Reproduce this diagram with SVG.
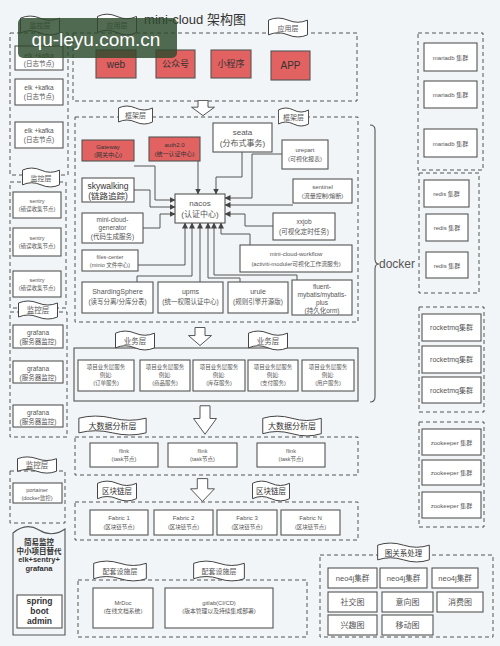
<svg xmlns="http://www.w3.org/2000/svg" xmlns:xlink="http://www.w3.org/1999/xlink" width="500" height="646" viewBox="0 0 500 646">
<style>
text{font-family:'Liberation Sans','Noto Sans CJK SC',sans-serif;fill:#555;text-anchor:middle}
.b{fill:#fff;stroke:#555;stroke-width:1.1}
.r{fill:#e26262;stroke:#555;stroke-width:1.1}
.d{fill:none;stroke:#555;stroke-width:1;stroke-dasharray:4 3}
.s{fill:none;stroke:#555;stroke-width:1.1}
.c{fill:none;stroke:#555;stroke-width:1;marker-end:url(#ah)}
.dark{fill:#333}
.bold{font-weight:bold;fill:#333}
</style>
<defs>
<marker id="ah" markerWidth="6" markerHeight="6" refX="5.5" refY="3" orient="auto" markerUnits="userSpaceOnUse"><path d="M0,0 L6,3 L0,6 z" fill="#444"/></marker>
<symbol id="tape" viewBox="0 0 40 20" preserveAspectRatio="none"><path d="M0.5,3 Q10,-1 20,3 T39.5,3 V17 Q30,21 20,17 T0.5,17 Z" fill="#fff" stroke="#444" stroke-width="1" vector-effect="non-scaling-stroke"/></symbol>
<symbol id="darr" viewBox="0 0 24 20" preserveAspectRatio="none"><path d="M7,0.5 H17 V9 H23.5 L12,19.5 L0.5,9 H7 Z" fill="#fff" stroke="#555" stroke-width="1" vector-effect="non-scaling-stroke"/></symbol>
</defs>
<rect width="500" height="646" fill="#f2f5f7"/>

<text x="195" y="24" font-size="13" class="dark">mini-cloud 架构图</text>

<!-- left monitoring column -->
<g id="mon-elk">
<rect class="d" x="10" y="33" width="58" height="142"/>
<use href="#tape" x="20" y="15" width="40" height="21"/><text x="40" y="27.5" font-size="7">监控层</text>
<rect class="b" x="15" y="46" width="48" height="24"/><text x="39" y="57.5" font-size="6.5">elk +kafka</text><text x="39" y="66" font-size="6.5">(日志节点)</text>
<rect class="b" x="15" y="79" width="48" height="26"/><text x="39" y="90" font-size="6.5">elk +kafka</text><text x="39" y="99" font-size="6.5">(日志节点)</text>
<rect class="b" x="15" y="122" width="48" height="26"/><text x="39" y="133" font-size="6.5">elk +kafka</text><text x="39" y="142" font-size="6.5">(日志节点)</text>
</g>
<g id="mon-sentry">
<rect class="d" x="10" y="182" width="56" height="126"/>
<use href="#tape" x="22" y="167" width="38" height="21"/><text x="41" y="181" font-size="7">监控层</text>
<rect class="b" x="13" y="192" width="48" height="26"/><text x="37" y="203" font-size="5.5">sentry</text><text x="37" y="211" font-size="5.5">(错误收集节点)</text>
<rect class="b" x="13" y="228" width="48" height="28"/><text x="37" y="240" font-size="5.5">sentry</text><text x="37" y="248" font-size="5.5">(错误收集节点)</text>
<rect class="b" x="13" y="271" width="48" height="26"/><text x="37" y="282" font-size="5.5">sentry</text><text x="37" y="290" font-size="5.5">(错误收集节点)</text>
</g>
<g id="mon-grafana">
<rect class="d" x="10" y="312" width="57" height="125"/>
<use href="#tape" x="18" y="300" width="40" height="20"/><text x="38" y="313" font-size="7.5">监控层</text>
<rect class="b" x="13" y="325" width="50" height="23"/><text x="38" y="335" font-size="6.5">grafana</text><text x="38" y="344" font-size="6.5">(服务器监控)</text>
<rect class="b" x="13" y="361" width="50" height="22"/><text x="38" y="371" font-size="6.5">grafana</text><text x="38" y="380" font-size="6.5">(服务器监控)</text>
<rect class="b" x="13" y="405" width="50" height="22"/><text x="38" y="415" font-size="6.5">grafana</text><text x="38" y="424" font-size="6.5">(服务器监控)</text>
</g>
<g id="mon-portainer">
<rect class="d" x="10" y="471" width="55" height="52"/>
<use href="#tape" x="17" y="456" width="40" height="18"/><text x="37" y="468" font-size="7.5">监控层</text>
<rect class="b" x="13" y="483" width="49" height="20"/><text x="37" y="492" font-size="5.5">portainer</text><text x="37" y="500" font-size="5.5">(docker监控)</text>
</g>
<g id="mon-simple">
<path class="s" d="M13,533 Q26,522 39,530 T65,529 V635 H13 Z" fill="#fff"/>
<text x="39" y="545" font-size="7.5" class="bold">简易监控</text>
<text x="39" y="553.5" font-size="7.5" class="bold">中小项目替代</text>
<text x="39" y="562" font-size="7.5" class="bold">elk+sentry+</text>
<text x="39" y="570.5" font-size="7.5" class="bold">grafana</text>
<rect class="b" x="17" y="595" width="45" height="33"/>
<text x="39.5" y="604" font-size="8.5" class="bold">spring</text>
<text x="39.5" y="614" font-size="8.5" class="bold">boot</text>
<text x="39.5" y="624" font-size="8.5" class="bold">admin</text>
</g>

<!-- application layer -->
<g id="app-layer">
<rect class="d" x="73" y="33" width="284" height="68"/>
<use href="#tape" x="97" y="13" width="40" height="23"/><text x="117" y="27.5" font-size="7">应用层</text>
<use href="#tape" x="268" y="17" width="40" height="21"/><text x="288" y="31" font-size="7">应用层</text>
<rect class="r" x="96" y="50" width="40" height="28"/><text x="116" y="68" font-size="10" class="dark">web</text>
<rect class="r" x="156" y="50" width="39" height="28"/><text x="175.5" y="67" font-size="9" class="dark">公众号</text>
<rect class="r" x="211" y="50" width="40" height="28"/><text x="231" y="67" font-size="9" class="dark">小程序</text>
<rect class="r" x="271" y="51" width="39" height="29"/><text x="290.5" y="69" font-size="10" class="dark">APP</text>
</g>
<use href="#darr" x="191" y="100" width="24" height="16"/>

<!-- framework layer -->
<g id="fw-layer">
<rect class="d" x="75" y="117" width="283" height="205"/>
<use href="#tape" x="118" y="105" width="35" height="20"/><text x="135.5" y="118" font-size="7">框架层</text>
<use href="#tape" x="278" y="107" width="31" height="20"/><text x="293.5" y="120" font-size="7">框架层</text>
</g>
<g id="gateway"><rect class="r" x="82" y="140" width="52" height="21"/><text x="108" y="149" font-size="6" class="dark">Gateway</text><text x="108" y="157" font-size="6" class="dark">(网关中心)</text></g>
<g id="auth"><rect class="r" x="149" y="137" width="51" height="24"/><text x="174.5" y="147" font-size="6" class="dark">auth2.0</text><text x="174.5" y="156" font-size="6" class="dark">(统一认证中心)</text></g>
<g id="seata"><rect class="b" x="213" y="123" width="59" height="29"/><text x="242.5" y="135" font-size="8">seata</text><text x="242.5" y="146" font-size="8">(分布式事务)</text></g>
<g id="urepart"><rect class="b" x="282" y="140" width="46" height="29"/><text x="305" y="152" font-size="6">urepart</text><text x="305" y="161" font-size="6">(可视化报表)</text></g>
<g id="sentinel"><rect class="b" x="293" y="179" width="59" height="24"/><text x="322.5" y="189" font-size="6">sentinel</text><text x="322.5" y="198" font-size="6">(流量控制/熔断)</text></g>
<g id="skywalking"><rect class="b" x="82" y="178" width="52" height="24"/><text x="108" y="188.5" font-size="8.5" class="dark">skywalking</text><text x="108" y="198.5" font-size="8.5" class="dark">(链路追踪)</text></g>
<g id="nacos"><rect class="b" x="175" y="194" width="50" height="29"/><text x="200" y="206" font-size="8">nacos</text><text x="200" y="217" font-size="8">(认证中心)</text></g>
<g id="generator"><rect class="b" x="82" y="213" width="61" height="30"/><text x="112.5" y="222" font-size="6.5">mini-cloud-</text><text x="112.5" y="230" font-size="6.5">generator</text><text x="112.5" y="239" font-size="6.5">(代码生成服务)</text></g>
<g id="files-center"><rect class="b" x="82" y="250" width="56" height="21"/><text x="110" y="259" font-size="5.5">files-center</text><text x="110" y="267" font-size="5.5">(minio 文件中心)</text></g>
<g id="xxjob"><rect class="b" x="273" y="213" width="62" height="27"/><text x="304" y="224" font-size="6.5">xxjob</text><text x="304" y="234" font-size="6.5">(可视化定时任务)</text></g>
<g id="workflow"><rect class="b" x="240" y="245" width="112" height="27"/><text x="296" y="256" font-size="6">mini-cloud-workflow</text><text x="296" y="265.5" font-size="5.8">(activiti-moduler可视化工作流服务)</text></g>
<g id="sharding"><rect class="b" x="82" y="282" width="71" height="31"/><text x="117.5" y="294" font-size="7">ShardingSphere</text><text x="117.5" y="304" font-size="6.5">(读写分离/分库分表)</text></g>
<g id="upms"><rect class="b" x="158" y="282" width="65" height="31"/><text x="190.5" y="294" font-size="7">upms</text><text x="190.5" y="304" font-size="6.5">(统一权限认证中心)</text></g>
<g id="urule"><rect class="b" x="228" y="282" width="60" height="31"/><text x="258" y="294" font-size="7">urule</text><text x="258" y="304" font-size="6.5">(规则引擎开源版)</text></g>
<g id="fluent"><rect class="b" x="292" y="280" width="60" height="35"/><text x="322" y="288.5" font-size="6.5">fluent-</text><text x="322" y="296.5" font-size="6.5">mybatis/mybatis-</text><text x="322" y="304.5" font-size="6.5">plus</text><text x="322" y="312.5" font-size="6.5">(持久化orm)</text></g>

<g id="connectors">
<path class="c" d="M134,166 H155 V200 H175"/>
<path class="c" d="M134,190 H150 V207 H175"/>
<path class="c" d="M143,228 H160 V214 H175"/>
<path class="c" d="M198,161 V194"/>
<path class="c" d="M242,152 V177 H216 V194"/>
<path class="c" d="M282,154 H252 V198 H225"/>
<path class="c" d="M293,205 H225"/>
<path class="c" d="M273,226 H245 V214 H225"/>
<path class="c" d="M138,265 H185 V223"/>
<path class="c" d="M137,282 V276 H192 V223"/>
<path class="c" d="M200,282 V223"/>
<path class="c" d="M240,282 V278 H208 V223"/>
<path class="c" d="M297,280 V275 H214 V223"/>
<path class="c" d="M250,245 V234 H221 V223"/>
</g>

<!-- docker brace -->
<g id="docker">
<path class="s" d="M370,125 Q375,125 375,130 V259 Q375,264 379,264 Q375,264 375,269 V397 Q375,402 370,402"/>
<text x="397" y="268" font-size="12" fill="#444">docker</text>
</g>

<!-- business layer -->
<use href="#darr" x="188" y="327" width="24" height="19"/>
<g id="biz-layer">
<rect class="s" x="74" y="348" width="284" height="53"/>
<use href="#tape" x="115" y="330" width="40" height="21"/><text x="135" y="344" font-size="7.5">业务层</text>
<use href="#tape" x="248" y="330" width="40" height="21"/><text x="268" y="344" font-size="7.5">业务层</text>
<rect class="b" x="78" y="360" width="56" height="31"/><text x="106" y="369" font-size="5.5">项目业务层服务</text><text x="106" y="377" font-size="5.5">例如:</text><text x="106" y="385" font-size="5.5">(订单服务)</text>
<rect class="b" x="140" y="360" width="50" height="31"/><text x="165" y="369" font-size="5.5">项目业务层服务</text><text x="165" y="377" font-size="5.5">例如:</text><text x="165" y="385" font-size="5.5">(商品服务)</text>
<rect class="b" x="193" y="360" width="52" height="31"/><text x="219" y="369" font-size="5.5">项目业务层服务</text><text x="219" y="377" font-size="5.5">例如:</text><text x="219" y="385" font-size="5.5">(库存服务)</text>
<rect class="b" x="248" y="360" width="50" height="31"/><text x="273" y="369" font-size="5.5">项目业务层服务</text><text x="273" y="377" font-size="5.5">例如:</text><text x="273" y="385" font-size="5.5">(支付服务)</text>
<rect class="b" x="302" y="360" width="52" height="31"/><text x="328" y="369" font-size="5.5">项目业务层服务</text><text x="328" y="377" font-size="5.5">例如:</text><text x="328" y="385" font-size="5.5">(用户服务)</text>
</g>

<!-- big data layer -->
<use href="#darr" x="193" y="405" width="24" height="30"/>
<g id="bigdata-layer">
<rect class="d" x="75" y="437" width="283" height="38"/>
<use href="#tape" x="78" y="415" width="69" height="21"/><text x="112.5" y="429" font-size="8" class="dark">大数据分析层</text>
<use href="#tape" x="262" y="415" width="60" height="22"/><text x="292" y="429" font-size="8" class="dark">大数据分析层</text>
<rect class="b" x="90" y="443" width="68" height="24"/><text x="124" y="453" font-size="5.5">flink</text><text x="124" y="461" font-size="5.5">(task节点)</text>
<rect class="b" x="168" y="443" width="69" height="24"/><text x="202.5" y="453" font-size="5.5">flink</text><text x="202.5" y="461" font-size="5.5">(task节点)</text>
<rect class="b" x="257" y="443" width="68" height="24"/><text x="291" y="453" font-size="5.5">flink</text><text x="291" y="461" font-size="5.5">(task节点)</text>
</g>

<!-- blockchain layer -->
<use href="#darr" x="190" y="478" width="25" height="24"/>
<g id="chain-layer">
<rect class="d" x="75" y="502" width="283" height="38"/>
<use href="#tape" x="97" y="480" width="40" height="22"/><text x="117" y="494" font-size="7.5" class="dark">区块链层</text>
<use href="#tape" x="252" y="480" width="38" height="22"/><text x="271" y="494" font-size="7.5" class="dark">区块链层</text>
<rect class="b" x="90" y="510" width="58" height="25"/><text x="119" y="520" font-size="6">Fabric 1</text><text x="119" y="529" font-size="5.5">(区块链节点)</text>
<rect class="b" x="154" y="510" width="59" height="25"/><text x="183.5" y="520" font-size="6">Fabric 2</text><text x="183.5" y="529" font-size="5.5">(区块链节点)</text>
<rect class="b" x="217" y="510" width="60" height="25"/><text x="247" y="520" font-size="6">Fabric 3</text><text x="247" y="529" font-size="5.5">(区块链节点)</text>
<rect class="b" x="281" y="510" width="59" height="25"/><text x="310.5" y="520" font-size="6">Fabric N</text><text x="310.5" y="529" font-size="5.5">(区块链节点)</text>
</g>

<!-- supporting layer -->
<g id="support-layer">
<rect class="d" x="78" y="580" width="229" height="57"/>
<use href="#tape" x="93" y="560" width="54" height="22"/><text x="120" y="574" font-size="7">配套设施层</text>
<use href="#tape" x="193" y="560" width="52" height="22"/><text x="219" y="574" font-size="7">配套设施层</text>
<rect class="b" x="93" y="588" width="60" height="40"/><text x="123" y="605" font-size="5.8">MrDoc</text><text x="123" y="613" font-size="5.8">(在线文档系统)</text>
<rect class="b" x="165" y="588" width="108" height="40"/><text x="219" y="605" font-size="5.8">gitlab(CI/CD)</text><text x="219" y="613" font-size="5.8">(版本管理以及持续集成部署)</text>
</g>

<!-- graph layer -->
<g id="graph-layer">
<rect class="d" x="320" y="555" width="173" height="82"/>
<use href="#tape" x="377" y="542" width="53" height="21"/><text x="403.5" y="556" font-size="7.5" class="dark">图关系处理</text>
<rect class="b" x="328" y="568" width="49" height="20"/><text x="352.5" y="581" font-size="7.5">neo4j集群</text>
<rect class="b" x="380" y="568" width="47" height="20"/><text x="403.5" y="581" font-size="7.5">neo4j集群</text>
<rect class="b" x="432" y="568" width="46" height="20"/><text x="455" y="581" font-size="7.5">neo4j集群</text>
<rect class="b" x="328" y="592" width="49" height="20"/><text x="352.5" y="605" font-size="8">社交图</text>
<rect class="b" x="382" y="592" width="51" height="20"/><text x="407.5" y="605" font-size="8">意向图</text>
<rect class="b" x="437" y="592" width="46" height="20"/><text x="460" y="605" font-size="8">消费图</text>
<rect class="b" x="328" y="615" width="49" height="20"/><text x="352.5" y="628" font-size="8">兴趣图</text>
<rect class="b" x="382" y="615" width="51" height="20"/><text x="407.5" y="628" font-size="8">移动图</text>
</g>

<!-- right column clusters -->
<g id="mariadb">
<rect class="d" x="418" y="33" width="65" height="137"/>
<rect class="b" x="424" y="43" width="53" height="28"/><text x="450.5" y="59.5" font-size="6">mariadb 集群</text>
<rect class="b" x="424" y="81" width="53" height="27"/><text x="450.5" y="97" font-size="6">mariadb 集群</text>
<rect class="b" x="424" y="129" width="53" height="28"/><text x="450.5" y="145.5" font-size="6">mariadb 集群</text>
</g>
<g id="redis">
<rect class="d" x="419" y="173" width="60" height="120"/>
<rect class="b" x="424" y="180" width="45" height="27"/><text x="446.5" y="196" font-size="6">redis 集群</text>
<rect class="b" x="426" y="214" width="42" height="27"/><text x="447" y="230" font-size="6">redis 集群</text>
<rect class="b" x="426" y="252" width="42" height="26"/><text x="447" y="267.5" font-size="6">redis 集群</text>
</g>
<g id="rocketmq">
<rect class="d" x="419" y="307" width="65" height="105"/>
<rect class="b" x="422" y="314" width="59" height="27"/><text x="451.5" y="330" font-size="7">rocketmq集群</text>
<rect class="b" x="422" y="346" width="59" height="27"/><text x="451.5" y="362" font-size="7">rocketmq集群</text>
<rect class="b" x="422" y="377" width="59" height="26"/><text x="451.5" y="393" font-size="7">rocketmq集群</text>
</g>
<g id="zookeeper">
<rect class="d" x="419" y="422" width="65" height="105"/>
<rect class="b" x="422" y="429" width="59" height="26"/><text x="451.5" y="444.5" font-size="6">zookeeper 集群</text>
<rect class="b" x="422" y="460" width="59" height="25"/><text x="451.5" y="475" font-size="6">zookeeper 集群</text>
<rect class="b" x="422" y="492" width="59" height="26"/><text x="451.5" y="507.5" font-size="6">zookeeper 集群</text>
</g>

<!-- watermark -->
<g id="watermark">
<rect x="18" y="18" width="159" height="40" rx="5" fill="#2c4a2c" opacity="0.82"/>
<text x="96" y="46" font-size="19" style="fill:#fff">qu-leyu.com.cn</text>
</g>
</svg>
